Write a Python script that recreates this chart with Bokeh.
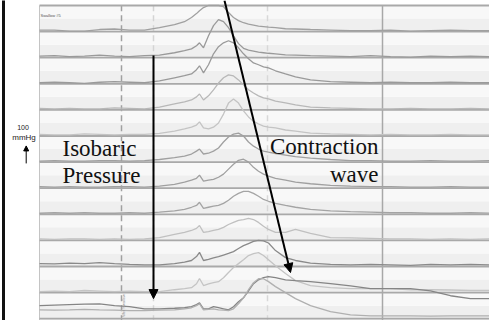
import numpy as np
from bokeh.plotting import figure
from bokeh.models import Range1d, Arrow, NormalHead, Label
from bokeh.embed import file_html
from bokeh.resources import INLINE

# ---- data (time in s, pressure in mmHg) ----
time_s = [0.0, 1.5, 3.0, 4.5, 6.0, 7.5, 9.0, 10.5, 12.0, 13.5,
          14.5, 15.2, 15.7, 16.0, 16.4, 16.9, 17.4, 17.9, 18.4, 18.9,
          19.4, 19.9, 20.4, 20.9, 21.4, 21.9, 22.4, 22.9, 23.6, 24.6,
          25.6, 27.1, 29.1, 31.1, 33.1, 35.1, 37.1, 39.1, 41.1, 43.1, 45.1]

ch00 = [6, 6, 2, 2, 8, 10, 6, 6, 15, 27, 38, 54, 69, 80, 92, 115, 138, 130, 96, 73,
        54, 42, 34, 29, 25, 21, 19, 17, 15, 11, 10, 8, 6, 4, 4, 6, 2, 4, 6, 4, 4]
ch01 = [6, 8, 4, 6, 10, 6, 4, 8, 10, 19, 27, 34, 46, 57, 38, 84, 123, 146, 138, 115,
        84, 54, 36, 29, 25, 21, 19, 17, 15, 11, 10, 8, 6, 4, 8, 4, 2, 6, 4, 6, 4]
ch02 = [4, 6, 4, 2, 6, 8, 6, 4, 11, 23, 31, 38, 54, 69, 42, 73, 115, 142, 157, 165,
        157, 138, 115, 96, 80, 73, 65, 61, 50, 38, 27, 15, 8, 6, 4, 6, 4, 4, 6, 4, 4]
ch03 = [6, 4, 6, 4, 4, 8, 6, 4, 11, 23, 31, 38, 50, 61, 38, 54, 77, 103, 123, 134,
        130, 115, 96, 77, 65, 54, 46, 42, 34, 27, 19, 11, 8, 6, 4, 4, 6, 4, 4, 6, 4]
ch04 = [6, 4, 4, 8, 6, 4, 6, 6, 10, 19, 27, 34, 42, 54, 31, 27, 34, 50, 84, 126,
        142, 126, 96, 73, 57, 46, 38, 34, 31, 23, 19, 11, 8, 6, 4, 6, 4, 4, 6, 4, 4]
ch05 = [4, 6, 4, 4, 6, 6, 4, 6, 10, 17, 23, 31, 42, 50, 31, 34, 42, 54, 77, 96,
        107, 111, 100, 77, 61, 50, 42, 38, 33, 27, 21, 15, 10, 6, 6, 4, 4, 6, 4, 4, 6]
ch06 = [6, 4, 6, 4, 4, 6, 6, 4, 8, 15, 23, 31, 38, 50, 27, 31, 34, 42, 54, 73,
        92, 107, 111, 100, 80, 65, 54, 46, 38, 31, 23, 17, 11, 8, 6, 6, 4, 4, 6, 4, 4]
ch07 = [4, 6, 4, 6, 4, 4, 6, 4, 8, 13, 19, 27, 34, 46, 23, 27, 31, 34, 42, 54,
        69, 80, 88, 88, 80, 69, 57, 50, 42, 34, 27, 19, 13, 10, 8, 6, 6, 4, 4, 6, 4]
ch08 = [6, 4, 6, 6, 4, 6, 4, 6, 11, 23, 31, 38, 46, 57, 31, 34, 38, 42, 50, 61,
        69, 77, 80, 84, 80, 69, 54, 42, 31, 31, 42, 27, 11, 10, 8, 6, 6, 4, 6, 4, 6]
ch09 = [11, 10, 13, 11, 15, 11, 8, 6, 6, 11, 17, 23, 38, 54, 23, 27, 33, 38, 44, 50,
        57, 69, 80, 88, 96, 100, 98, 90, 61, 34, 23, 13, 8, 6, 8, 6, 4, 8, 6, 8, 6]
ch10 = [4, 6, 4, 8, 6, 4, 6, 4, 4, 11, 15, 19, 34, 54, 27, 33, 38, 42, 57, 77,
        96, 111, 126, 142, 149, 153, 142, 126, 103, 73, 46, 27, 19, 15, 15, 15, 11, 11, 10, 8, 8]
ch11 = [50, 52, 54, 56, 57, 50, 46, 38, 38, 40, 42, 46, 54, 61, 38, 38, 46, 42, 38, 34,
        46, 65, 80, 107, 134, 149, 157, 161, 157, 149, 146, 142, 134, 126, 115, 115, 115, 107, 88, 77, 77]
ch12 = [34, 33, 34, 36, 34, 33, 31, 31, 33, 34, 38, 42, 50, 57, 34, 36, 38, 34, 33, 31,
        38, 57, 80, 111, 138, 153, 153, 142, 123, 100, 77, 50, 27, 15, 11, 11, 11, 10, 11, 11, 11]

channels = [ch00, ch01, ch02, ch03, ch04, ch05, ch06, ch07, ch08, ch09, ch10, ch11, ch12]
ch_offsets = [1100, 1000, 900, 800, 700, 600, 500, 400, 300, 200, 100, 0, 0]
ch_colors = ["#a0a0a0", "#9a9a9a", "#9a9a9a", "#b8b8b8", "#c4c4c4", "#a0a0a0", "#a0a0a0",
             "#a4a4a4", "#c0c0c0", "#8a8a8a", "#c4c4c4", "#858585", "#b0b0b0"]
row_levels = [0, 100, 200, 300, 400, 500, 600, 700, 800, 900, 1000, 1100, 1200]
panel_top = 1200

# event markers (s)
marker_times = [8.2, 11.4, 22.8, 34.3]
marker_dash = ["6 4", "6 4", "6 4", "solid"]
marker_colors = ["#a0a0a0", "#d4d4d4", "#d8d8d8", "#a8a8a8"]

# annotation arrows (s, stacked mmHg)
iso_arrow = dict(t0=11.4, y0=1008, t1=11.4, y1=77)
wave_arrow = dict(t0=18.5, y0=1219, t1=25.1, y1=177)

p = figure(width=489, height=320, x_range=Range1d(-3.9, 45.0), y_range=Range1d(-6.9, 1219.2),
           output_backend="svg", toolbar_location=None, x_axis_type=None, y_axis_type=None,
           min_border=0, outline_line_color=None, background_fill_color="white",
           border_fill_color="white")

# row backgrounds
bb, bt, bc = [], [], []
for k in row_levels[:-1]:
    bb += [k, k + 50]
    bt += [k + 50, k + 100]
    bc += ["#efefef", "#f8f8f8"]
p.quad(left=0, right=46, bottom=bb, top=bt, fill_color=bc, line_color=None)
p.quad(left=0, right=46, bottom=-10, top=0, fill_color="#efefef", line_color=None)

# black frame bar at the far left
p.quad(left=-3.75, right=-3.45, bottom=-10, top=1300, fill_color="#111111", line_color=None)

# panel left border
p.segment(x0=[0], y0=[-10], x1=[0], y1=[panel_top], line_color="#c4c4c4", line_width=1)

# event markers
for t, d, c in zip(marker_times, marker_dash, marker_colors):
    p.segment(x0=[t], y0=[-10], x1=[t], y1=[panel_top], line_color=c, line_width=1.5, line_dash=d)

# row separators
p.segment(x0=0, x1=46, y0=row_levels, y1=row_levels, line_color="#a9a9a9", line_width=1.8)

# traces (clipped at the panel top)
for vals, off, col in zip(channels, ch_offsets, ch_colors):
    p.line(time_s, [min(off + v, panel_top) for v in vals], line_color=col, line_width=1.3)

# arrows
p.add_layout(Arrow(end=NormalHead(size=9, fill_color="black", line_color="black"),
                   x_start=iso_arrow["t0"], y_start=iso_arrow["y0"],
                   x_end=iso_arrow["t1"], y_end=iso_arrow["y1"],
                   line_color="black", line_width=2))
p.add_layout(Arrow(end=NormalHead(size=9, fill_color="black", line_color="black"),
                   x_start=wave_arrow["t0"], y_start=wave_arrow["y0"],
                   x_end=wave_arrow["t1"], y_end=wave_arrow["y1"],
                   line_color="black", line_width=2))
# scale arrow
p.add_layout(Arrow(end=NormalHead(size=5, fill_color="black", line_color="black"),
                   x_start=-1.33, y_start=595, x_end=-1.33, y_end=662,
                   line_color="black", line_width=1))

serif = "Liberation Serif, serif"
sans = "Liberation Sans, sans-serif"
labels = [
    ("Isobaric", 2.3, 652, "left", 23, serif, "#111111"),
    ("Pressure", 2.3, 548, "left", 23, serif, "#111111"),
    ("Contraction", 33.9, 658, "right", 23, serif, "#111111"),
    ("wave", 33.9, 551, "right", 23, serif, "#111111"),
    ("100", -1.65, 733, "center", 7, sans, "#222222"),
    ("mmHg", -1.55, 693, "center", 8, sans, "#222222"),
    ("Swallow #5", 0.1, 1162, "left", 4, sans, "#555555"),
]
for txt, x, y, al, sz, fnt, col in labels:
    p.add_layout(Label(x=x, y=y, text=txt, text_align=al, text_baseline="alphabetic",
                       text_font_size=f"{sz}px", text_font=fnt, text_color=col))

p.add_layout(Label(x=8.4, y=7, text="Wet Swallow", angle=np.pi / 2, text_align="left",
                   text_baseline="middle", text_font_size="4px", text_font=sans,
                   text_color="#999999"))

open("out.html", "w").write(file_html(p, INLINE))
